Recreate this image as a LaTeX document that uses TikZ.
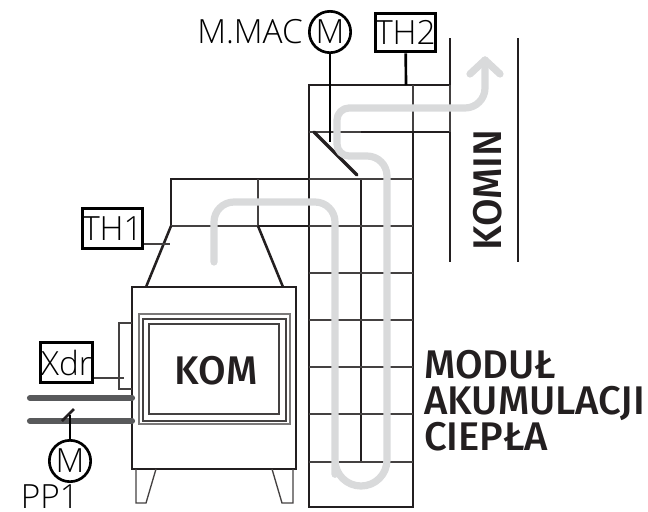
\documentclass[tikz,border=0pt]{standalone}
\usepackage{fontspec}
\usepackage{tikz}
\usetikzlibrary{calc}
\newfontfamily\labelfont{Open Sans Light}
\newfontfamily\namefont{Fira Sans}[UprightFont=*-Medium]
\definecolor{inkblack}{HTML}{231F20}
\definecolor{flowgray}{HTML}{D9DADB}
\definecolor{pipegray}{HTML}{58595B}
\tikzset{
    wall/.style={draw=inkblack,line width=1.9pt},
    thinwall/.style={draw=inkblack!85,line width=1pt},
    flow/.style={draw=flowgray,line width=5.4pt,line cap=round,line join=round},
    pipe/.style={draw=pipegray,line width=4.6pt,line cap=round},
    sensorbox/.style={draw=black,line width=2.4pt,inner sep=0pt,fill=white,
        font=\labelfont\fontsize{25}{25}\selectfont},
    motor/.style={draw=black,circle,line width=2pt,inner sep=0pt,minimum size=31pt,
        font=\labelfont\fontsize{25}{25}\selectfont},
    plainlabel/.style={inner sep=0pt,text=black,font=\labelfont\fontsize{25}{25}\selectfont},
    namelabel/.style={inner sep=0pt,text=inkblack,font=\namefont\fontsize{30}{27}\selectfont},
}
\begin{document}
\begin{tikzpicture}[x=0.75pt,y=-0.75pt]
    \useasboundingbox (0,0) rectangle (648,511);

    % Heat storage column
    \draw[wall] (309,179) -- (309,85) -- (450,85);
    \draw[wall] (309,179) -- (309,507) -- (413,507) -- (413,132);
    \draw[thinwall] (413,85) -- (413,132);
    \draw[thinwall] (309,132) -- (361,132);
    \draw[wall] (361,132) -- (450,132);
    \draw[wall] (361,179) -- (361,462);
    \foreach \rowy in {179,226,273,320,367,414,462}
        \draw[thinwall] (309,\rowy) -- (413,\rowy);

    % Chimney
    \draw[wall] (450,38) -- (450,85);
    \draw[thinwall] (450,85) -- (450,132);
    \draw[wall] (450,132) -- (450,262);
    \draw[wall] (518,38) -- (518,262);
    \node[namelabel,rotate=90] (komin) at (488,190) {KOMIN};

    % Flue from stove to column
    \draw[wall] (171,226) -- (171,179) -- (309,179);
    \draw[thinwall] (171,226) -- (258,226);
    \draw[thinwall] (258,179) -- (258,226);
    \draw[wall] (258,226) -- (309,226);
    \draw[wall] (171,226) -- (146,287);
    \draw[wall] (258,226) -- (283,287);

    % Stove
    \draw[wall] (132,287) rectangle (296,469);
    \draw[thinwall,draw=inkblack!60] (139,314) rectangle (290,424);
    \draw[thinwall] (143,319) rectangle (286,421);
    \draw[thinwall] (149,324) rectangle (279,414);
    \node[namelabel] (kom) at (216,371) {KOM};
    \draw[thinwall] (136,469) -- (136,503) -- (146,503) -- (156,469);
    \draw[thinwall] (272,469) -- (282,503) -- (293,503) -- (293,469);
    \draw[thinwall] (132,323) -- (119,323) -- (119,389) -- (132,389);

    % Air supply
    \draw[pipe] (30,398) -- (132,398);
    \draw[pipe] (30,421) -- (132,421);
    \coordinate (pp1gate) at (70,415);
    \draw[line width=2pt,draw=inkblack] (62,421) -- (74,409);
    \node[motor] (pp1) at (70,461) {M};
    \draw[line width=2pt] (pp1) -- (pp1gate);
    \node[plainlabel] (pp1name) at (50,497) {PP1};

    % Sensors
    \node[sensorbox,minimum width=39pt,minimum height=30pt] (xdr) at (66.5,362.5) {Xdr};
    \coordinate (xdrend) at (124,378);
    \draw[thinwall] (xdr.south east |- xdrend) -- (xdrend);
    \node[sensorbox,minimum width=45pt,minimum height=29pt] (th2) at (405.5,32.5) {TH2};
    \coordinate (th2end) at (406,85);
    \draw[line width=2pt] (th2) -- (th2end);
    \node[sensorbox,minimum width=45pt,minimum height=30pt] (th1) at (112.5,228.5) {TH1};
    \coordinate (th1end) at (170,244);
    \draw[thinwall] (th1.east |- th1end) -- (th1end);

    % Damper
    \node[motor] (mmac) at (330,32) {M};
    \node[plainlabel,anchor=east] (mmacname) at (303,32) {M.MAC};
    \coordinate (mmacend) at (330,142);
    \draw[line width=2pt] (mmac) -- (mmacend);
    \draw[draw=inkblack,line width=2.4pt,line cap=round] (314,132) -- (357,175);

    % Flue gas path
    \draw[flow] (214,262) -- (214,225) [rounded corners=15pt] -- (214,202) -- (335,202)
        -- (335,486) [rounded corners=19.5pt] -- (335,486) -- (387,486)
        [rounded corners=15pt] -- (387,156) [rounded corners=9pt] -- (337,156) -- (337,108)
        [rounded corners=15pt] -- (485,108) -- (485,60);
    \draw[flow] (470,74) -- (485,60) -- (500,74);

    \node[namelabel,align=left,anchor=north west] (modul) at (424,350)
        {MODUŁ\\AKUMULACJI\\CIEPŁA};
\end{tikzpicture}
\end{document}
